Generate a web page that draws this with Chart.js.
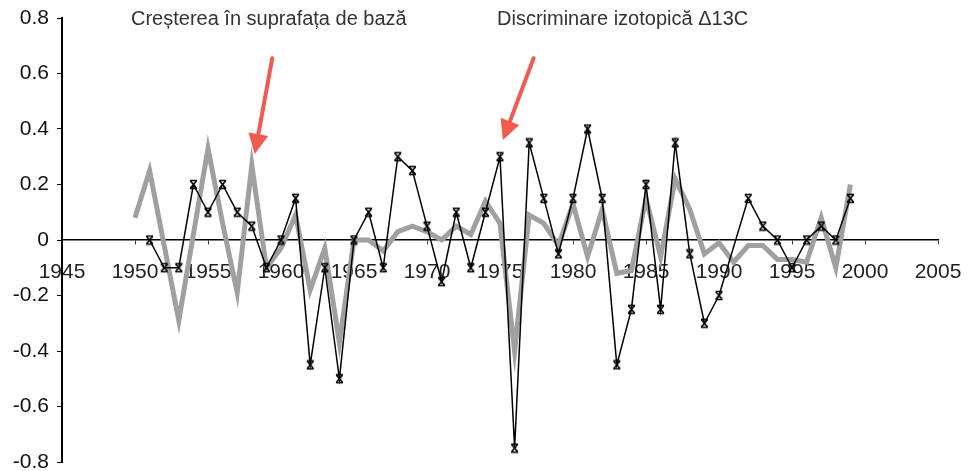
<!DOCTYPE html>
<html>
<head>
<meta charset="utf-8">
<script src="https://cdn.jsdelivr.net/npm/chart.js@4"></script>
<style>
    body { margin: 0; background: #fff; }
    #wrap { width: 971px; height: 471px; }
</style>
</head>
<body>
<div id="wrap"><canvas id="chart" width="971" height="471"></canvas></div>
<script>
// years on the x axis
var years = [1950, 1951, 1952, 1953, 1954, 1955, 1956, 1957, 1958, 1959,
             1960, 1961, 1962, 1963, 1964, 1965, 1966, 1967, 1968, 1969,
             1970, 1971, 1972, 1973, 1974, 1975, 1976, 1977, 1978, 1979,
             1980, 1981, 1982, 1983, 1984, 1985, 1986, 1987, 1988, 1989,
             1990, 1991, 1992, 1993, 1994, 1995, 1996, 1997, 1998, 1999];

// grey: basal area growth
var basalArea = [0.08, 0.25, -0.02, -0.29, 0.02, 0.33, 0.06, -0.19, 0.27, -0.1,
                 -0.03, 0.09, -0.18, -0.03, -0.37, 0, 0, -0.04, 0.03, 0.05,
                 0.03, 0, 0.05, 0.02, 0.14, 0.06, -0.4, 0.09, 0.06, -0.02,
                 0.13, -0.06, 0.11, -0.12, -0.11, 0.15, -0.06, 0.22, 0.11, -0.05,
                 -0.01, -0.08, -0.02, -0.02, -0.07, -0.07, -0.08, 0.08, -0.1, 0.2];

// black: isotope discrimination (1950 and 1991 missing)
var isotope = [null, 0, -0.1, -0.1, 0.2, 0.1, 0.2, 0.1, 0.05, -0.1,
               0, 0.15, -0.45, -0.1, -0.5, 0, 0.1, -0.1, 0.3, 0.25,
               0.05, -0.15, 0.1, -0.1, 0.1, 0.3, -0.75, 0.35, 0.15, -0.05,
               0.15, 0.4, 0.15, -0.45, -0.25, 0.2, -0.25, 0.35, -0.05, -0.3,
               -0.2, null, 0.15, 0.05, 0, -0.1, 0, 0.05, 0, 0.15];

var seriesLabels = ['Creșterea în suprafața de bază', 'Discriminare izotopică Δ13C'];

var FONT = '"Liberation Sans", Arial, Helvetica, sans-serif';

function toPoints(vals) {
    return years.map(function (y, i) { return { x: y, y: vals[i] }; });
}

// x with little caps, like the excel marker
function makeMarker() {
    var c = document.createElement('canvas');
    c.width = 11; c.height = 11;
    var g = c.getContext('2d');
    g.strokeStyle = '#000';
    g.lineWidth = 1.6;
    g.beginPath();
    g.moveTo(2.5, 2); g.lineTo(8.5, 9);
    g.moveTo(8.5, 2); g.lineTo(2.5, 9);
    g.moveTo(2, 1.5); g.lineTo(9, 1.5);
    g.moveTo(2, 9.5); g.lineTo(9, 9.5);
    g.stroke();
    return c;
}

function drawArrow(ctx, x0, y0, x1, y1) {
    var ang = Math.atan2(y1 - y0, x1 - x0);
    var headLen = 20, headW = 10;
    var bx = x1 - Math.cos(ang) * headLen, by = y1 - Math.sin(ang) * headLen;
    ctx.save();
    ctx.strokeStyle = '#f25a50';
    ctx.fillStyle = '#f25a50';
    ctx.lineWidth = 4;
    ctx.lineCap = 'round';
    ctx.beginPath();
    ctx.moveTo(x0, y0);
    ctx.lineTo(bx, by);
    ctx.stroke();
    ctx.beginPath();
    ctx.moveTo(x1, y1);
    ctx.lineTo(bx + Math.sin(ang) * headW, by - Math.cos(ang) * headW);
    ctx.lineTo(bx - Math.sin(ang) * headW, by + Math.cos(ang) * headW);
    ctx.closePath();
    ctx.fill();
    ctx.restore();
}

var annotations = {
    id: 'annotations',
    afterDraw: function (chart) {
        var ctx = chart.ctx;
        var xs = chart.scales.x, ys = chart.scales.y;
        ctx.save();
        ctx.font = '20px ' + FONT;
        ctx.fillStyle = '#333';
        ctx.textBaseline = 'alphabetic';
        ctx.fillText(seriesLabels[0], 131, 25);
        ctx.fillText(seriesLabels[1], 497, 25);
        ctx.restore();

        drawArrow(ctx, xs.getPixelForValue(1959.4), ys.getPixelForValue(0.655),
                       xs.getPixelForValue(1958.2), ys.getPixelForValue(0.31));
        drawArrow(ctx, xs.getPixelForValue(1977.3), ys.getPixelForValue(0.655),
                       xs.getPixelForValue(1975.2), ys.getPixelForValue(0.36));
    }
};

var ctx = document.getElementById('chart').getContext('2d');
new Chart(ctx, {
    type: 'line',
    data: {
        datasets: [{
            label: seriesLabels[1],
            data: toPoints(isotope),
            borderColor: '#000',
            borderWidth: 1.5,
            pointStyle: makeMarker(),
            pointRadius: 5,
            spanGaps: true,
            tension: 0,
            order: 0
        }, {
            label: seriesLabels[0],
            data: toPoints(basalArea),
            borderColor: '#a0a0a0',
            borderWidth: 5,
            pointRadius: 0,
            tension: 0,
            order: 1
        }]
    },
    options: {
        responsive: false,
        animation: false,
        layout: { padding: { top: 18, bottom: 9, left: 0, right: 33 } },
        plugins: {
            legend: { display: false },
            tooltip: { enabled: false }
        },
        scales: {
            x: {
                type: 'linear',
                position: { y: 0 },
                min: 1945,
                max: 2005,
                afterFit: function (scale) {
                    scale.paddingLeft = 0;
                    scale.paddingRight = 0;
                },
                ticks: {
                    stepSize: 5,
                    padding: 16,
                    color: '#222',
                    font: { family: FONT, size: 21 },
                    maxRotation: 0,
                    callback: function (v) { return String(v); }
                },
                grid: { drawOnChartArea: false, tickLength: 4, tickColor: '#444' },
                border: { color: '#000', width: 1.5 }
            },
            y: {
                min: -0.8,
                max: 0.8,
                afterFit: function (scale) {
                    scale.width = 62;
                    scale.paddingTop = 0;
                    scale.paddingBottom = 0;
                },
                ticks: {
                    stepSize: 0.2,
                    padding: 8,
                    color: '#111',
                    font: { family: FONT, size: 21 }
                },
                grid: { drawOnChartArea: false, tickLength: 5, tickColor: '#000' },
                border: { color: '#000', width: 2 }
            }
        }
    },
    plugins: [annotations]
});
</script>
</body>
</html>
